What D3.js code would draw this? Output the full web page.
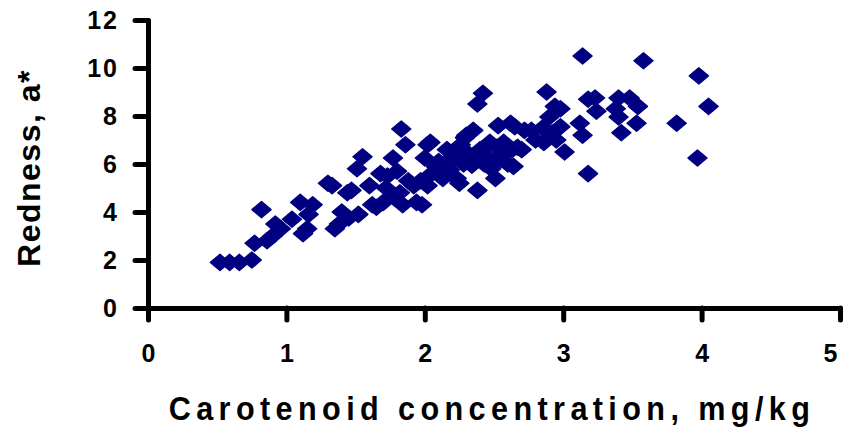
<!DOCTYPE html>
<html>
<head>
<meta charset="utf-8">
<script src="https://cdn.jsdelivr.net/npm/d3@7"></script>
<style>
  body { margin: 0; background: #fff; }
  svg { display: block; font-family: "Liberation Sans", Arial, sans-serif; font-weight: bold; }
</style>
</head>
<body>
<div class="graph-container"></div>
<script>
// carotenoid concentration (mg/kg) and redness a*
const carotenoid = [
  0.52, 0.59, 0.66, 0.75, 0.77, 0.82, 0.86, 0.90, 0.92, 0.96,
  1.04, 1.10, 1.12, 1.15, 1.16, 1.19, 1.30, 1.33, 1.35, 1.38,
  1.40, 1.44, 1.45, 1.47, 1.51, 1.55, 1.52, 1.60, 1.62, 1.65,
  1.68, 1.70, 1.72, 1.73, 1.77, 1.78, 1.80, 1.82, 1.83, 1.84,
  1.86, 1.88, 1.92, 1.94, 1.97, 1.98, 2.00, 2.02, 2.02, 2.04,
  2.05, 2.08, 2.10, 2.11, 2.13, 2.15, 2.16, 2.18, 2.20, 2.22,
  2.23, 2.25, 2.26, 2.28, 2.29, 2.30, 2.32, 2.34, 2.35, 2.36,
  2.38, 2.38, 2.40, 2.42, 2.43, 2.45, 2.47, 2.48, 2.50, 2.51,
  2.52, 2.53, 2.55, 2.57, 2.58, 2.60, 2.62, 2.63, 2.64, 2.65,
  2.67, 2.70, 2.72, 2.77, 2.80, 2.85, 2.86, 2.88, 2.90, 2.92,
  2.94, 2.95, 2.98, 2.98, 3.01, 3.12, 3.14, 3.14, 3.18, 3.18,
  3.23, 3.24, 3.38, 3.40, 3.40, 3.42, 3.48, 3.53, 3.54, 3.58,
  3.82, 3.98, 3.97, 4.05
];
const redness = [
  1.9, 1.9, 1.9, 2.0, 2.7, 4.1, 2.8, 3.0, 3.5, 3.3,
  3.7, 4.4, 3.1, 3.3, 3.9, 4.3, 5.2, 5.1, 3.3, 3.5,
  4.0, 4.8, 3.75, 4.9, 5.8, 6.3, 3.9, 5.1, 4.3, 4.2,
  5.6, 4.4, 5.0, 5.5, 6.25, 4.6, 5.7, 4.8, 7.46, 4.3,
  6.8, 5.3, 5.1, 4.4, 5.3, 4.3, 6.25, 6.8, 5.1, 6.9,
  5.6, 5.9, 6.1, 6.0, 5.4, 5.95, 6.6, 5.75, 6.3, 6.5,
  5.4, 5.2, 6.8, 6.0, 7.1, 7.2, 6.4, 5.95, 7.4, 6.2,
  4.9, 8.5, 6.6, 8.95, 6.0, 6.3, 6.9, 5.8, 6.1, 5.4,
  6.7, 7.6, 6.2, 6.9, 6.5, 6.0, 7.7, 6.6, 5.9, 7.55,
  6.7, 6.6, 7.4, 7.4, 7.0, 7.5, 6.9, 9.0, 7.96, 7.3,
  8.4, 7.0, 8.3, 7.55, 6.5, 7.7, 7.2, 10.5, 5.6, 8.7,
  8.75, 8.2, 8.3, 8.75, 7.96, 7.3, 8.75, 7.7, 8.4, 10.3,
  7.7, 9.67, 6.25, 8.4
];
const xTicks = [0, 1, 2, 3, 4, 5];
const yTicks = [0, 2, 4, 6, 8, 10, 12];
const xTitle = 'Carotenoid concentration, mg/kg';
const yTitle = 'Redness, a*';

const data = carotenoid.map((c, i) => ({ c: c, a: redness[i] }));

const width = 844, height = 427;
const margin = { left: 148, right: 4, top: 20, bottom: 119 };
const plotWidth = width - margin.left - margin.right;
const plotHeight = height - margin.top - margin.bottom;

const svg = d3.select('.graph-container')
  .append('svg')
  .attr('width', width)
  .attr('height', height);

const xScale = d3.scaleLinear().domain([0, 5]).range([0, plotWidth]);
const yScale = d3.scaleLinear().domain([0, 12]).range([plotHeight, 0]);

const panel = svg.append('g')
  .attr('transform', `translate(${margin.left},${margin.top})`);

// markers first so the axes sit on top
const diamond = 'M0,-8 L9.5,0 L0,8 L-9.5,0 Z';
panel.append('g')
  .attr('class', 'points')
  .selectAll('path')
  .data(data)
  .join('path')
  .attr('d', diamond)
  .attr('transform', d => `translate(${xScale(d.c)},${yScale(d.a)})`)
  .attr('fill', '#000080')
  .attr('stroke', '#000080')
  .attr('stroke-width', 1.5)
  .attr('stroke-linejoin', 'round');

function styleAxis(g) {
  g.selectAll('path, line')
    .attr('stroke', '#000')
    .attr('stroke-width', 5)
    .attr('stroke-linecap', 'round');
  g.selectAll('text')
    .attr('fill', '#000')
    .style('font-size', '25px')
    .style('font-weight', 'bold')
    .style('font-family', '"Liberation Sans", Arial, sans-serif');
}

const xAxisG = panel.append('g')
  .attr('class', 'axis x-axis')
  .attr('transform', `translate(0,${plotHeight})`)
  .call(d3.axisBottom(xScale)
    .tickValues(xTicks)
    .tickFormat(d3.format('d'))
    .tickSize(12)
    .tickSizeOuter(0)
    .tickPadding(24))
  .call(styleAxis);

// the last label sits a little inside the right edge, as in the source
xAxisG.selectAll('text')
  .filter(d => d === 5)
  .attr('dx', -10);

panel.append('g')
  .attr('class', 'axis y-axis')
  .call(d3.axisLeft(yScale)
    .tickValues(yTicks)
    .tickFormat(d3.format('d'))
    .tickSize(13)
    .tickSizeOuter(0)
    .tickPadding(16))
  .call(styleAxis)
  .selectAll('text')
  .attr('letter-spacing', 2);

// axis titles (x title is tall and narrow with wide spacing)
svg.append('text')
  .attr('transform', 'translate(492,420) scale(0.9,1)')
  .attr('text-anchor', 'middle')
  .attr('font-size', 34)
  .attr('letter-spacing', 6)
  .text(xTitle);

svg.append('text')
  .attr('transform', 'translate(40,168) rotate(-90)')
  .attr('text-anchor', 'middle')
  .attr('font-size', 32)
  .attr('letter-spacing', 1.5)
  .text(yTitle);
</script>
</body>
</html>
